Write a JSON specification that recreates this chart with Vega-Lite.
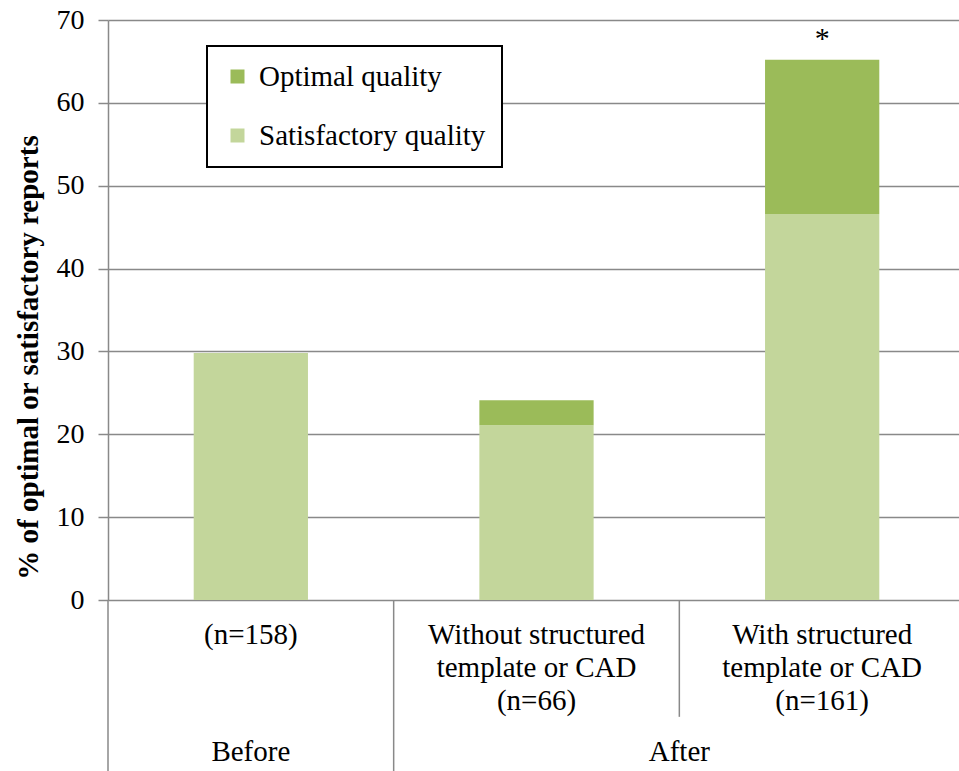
{
  "$schema": "https://vega.github.io/schema/vega-lite/v6.json",
  "width": 851,
  "height": 580,
  "autosize": {"type": "none"},
  "padding": {"left": 108, "top": 20, "right": 0, "bottom": 171},
  "background": "white",
  "config": {
    "font": "Liberation Serif",
    "view": {"stroke": null},
    "axis": {"labelFont": "Liberation Serif", "titleFont": "Liberation Serif", "labelColor": "#000000", "titleColor": "#000000"}
  },
  "datasets": {
    "bars": [
      {"cat": "(n=158)", "quality": "Satisfactory quality", "pct": 29.8},
      {"cat": "Without structured template or CAD (n=66)", "quality": "Satisfactory quality", "pct": 21.1},
      {"cat": "Without structured template or CAD (n=66)", "quality": "Optimal quality", "pct": 3.0},
      {"cat": "With structured template or CAD (n=161)", "quality": "Satisfactory quality", "pct": 46.6},
      {"cat": "With structured template or CAD (n=161)", "quality": "Optimal quality", "pct": 18.6}
    ],
    "notes": [
      {"cat": "With structured template or CAD (n=161)", "total": 65.2, "note": "*"}
    ]
  },
  "layer": [
    {
      "data": {"name": "bars"},
      "mark": {"type": "bar", "width": {"band": 0.4}},
      "encoding": {
        "x": {
          "field": "cat", "type": "nominal", "sort": null,
          "scale": {"paddingInner": 0, "paddingOuter": 0, "range": [0, 857]},
          "axis": {
            "orient": "bottom", "title": null, "domain": false, "ticks": false, "grid": false,
            "labelAngle": 0, "labelFontSize": 29, "labelPadding": 20, "labelBaseline": "top",
            "labelLineHeight": 33, "labelLimit": 0,
            "labelExpr": "datum.value == '(n=158)' ? '(n=158)' : datum.value == 'Without structured template or CAD (n=66)' ? ['Without structured', 'template or CAD', '(n=66)'] : ['With structured', 'template or CAD', '(n=161)']"
          }
        },
        "y": {
          "field": "pct", "type": "quantitative", "stack": "zero",
          "scale": {"domain": [0, 70], "nice": false},
          "axis": {
            "values": [0, 10, 20, 30, 40, 50, 60, 70],
            "title": "% of optimal or satisfactory reports",
            "titleFontSize": 29, "titleFontWeight": "bold",
            "titleAngle": -90, "titleX": -80, "titleY": 337, "titleAlign": "center", "titleBaseline": "middle",
            "labelFontSize": 28, "labelPadding": 14,
            "grid": true, "gridColor": "#898989", "gridWidth": 1.5,
            "domain": true, "domainColor": "#898989", "domainWidth": 1.5,
            "ticks": true, "tickSize": 10, "tickColor": "#898989", "tickWidth": 1.5
          }
        },
        "color": {
          "field": "quality", "type": "nominal",
          "scale": {"domain": ["Optimal quality", "Satisfactory quality"], "range": ["#9BBB59", "#C3D69B"]},
          "legend": {
            "title": null, "orient": "none", "legendX": 99, "legendY": 26,
            "strokeColor": "#000000", "fillColor": "#ffffff",
            "padding": 16, "rowPadding": 29,
            "symbolType": "square", "symbolSize": 196, "symbolStrokeWidth": 0,
            "labelFont": "Liberation Serif", "labelFontSize": 29, "labelColor": "#000000", "labelOffset": 7, "labelLimit": 0,
            "encode": {"legend": {"update": {"strokeWidth": {"value": 2}}}}
          }
        },
        "order": {"field": "quality", "sort": "descending"}
      }
    },
    {
      "data": {"name": "notes"},
      "mark": {"type": "text", "font": "Liberation Serif", "fontSize": 30, "baseline": "alphabetic", "dy": -12, "color": "#000000"},
      "encoding": {
        "x": {"field": "cat", "type": "nominal", "sort": null},
        "y": {"field": "total", "type": "quantitative"},
        "text": {"field": "note"}
      }
    },
    {
      "data": {"values": [{"cat": "(n=158)"}, {"cat": "Without structured template or CAD (n=66)"}]},
      "mark": {"type": "rule", "color": "#898989", "strokeWidth": 1.5},
      "encoding": {
        "x": {"field": "cat", "type": "nominal", "sort": null, "bandPosition": 0},
        "y": {"datum": 0},
        "y2": {"datum": -20.7}
      }
    },
    {
      "data": {"values": [{"cat": "With structured template or CAD (n=161)"}]},
      "mark": {"type": "rule", "color": "#898989", "strokeWidth": 1.5},
      "encoding": {
        "x": {"field": "cat", "type": "nominal", "sort": null, "bandPosition": 0},
        "y": {"datum": 0},
        "y2": {"datum": -14.1}
      }
    },
    {
      "data": {"values": [{"cat": "(n=158)", "group": "Before"}]},
      "mark": {"type": "text", "font": "Liberation Serif", "fontSize": 29, "baseline": "middle", "color": "#000000"},
      "encoding": {
        "x": {"field": "cat", "type": "nominal", "sort": null, "bandPosition": 0.5},
        "y": {"datum": -18.35},
        "text": {"field": "group"}
      }
    },
    {
      "data": {"values": [{"cat": "Without structured template or CAD (n=66)", "group": "After"}]},
      "mark": {"type": "text", "font": "Liberation Serif", "fontSize": 29, "baseline": "middle", "color": "#000000"},
      "encoding": {
        "x": {"field": "cat", "type": "nominal", "sort": null, "bandPosition": 1},
        "y": {"datum": -18.35},
        "text": {"field": "group"}
      }
    }
  ]
}
